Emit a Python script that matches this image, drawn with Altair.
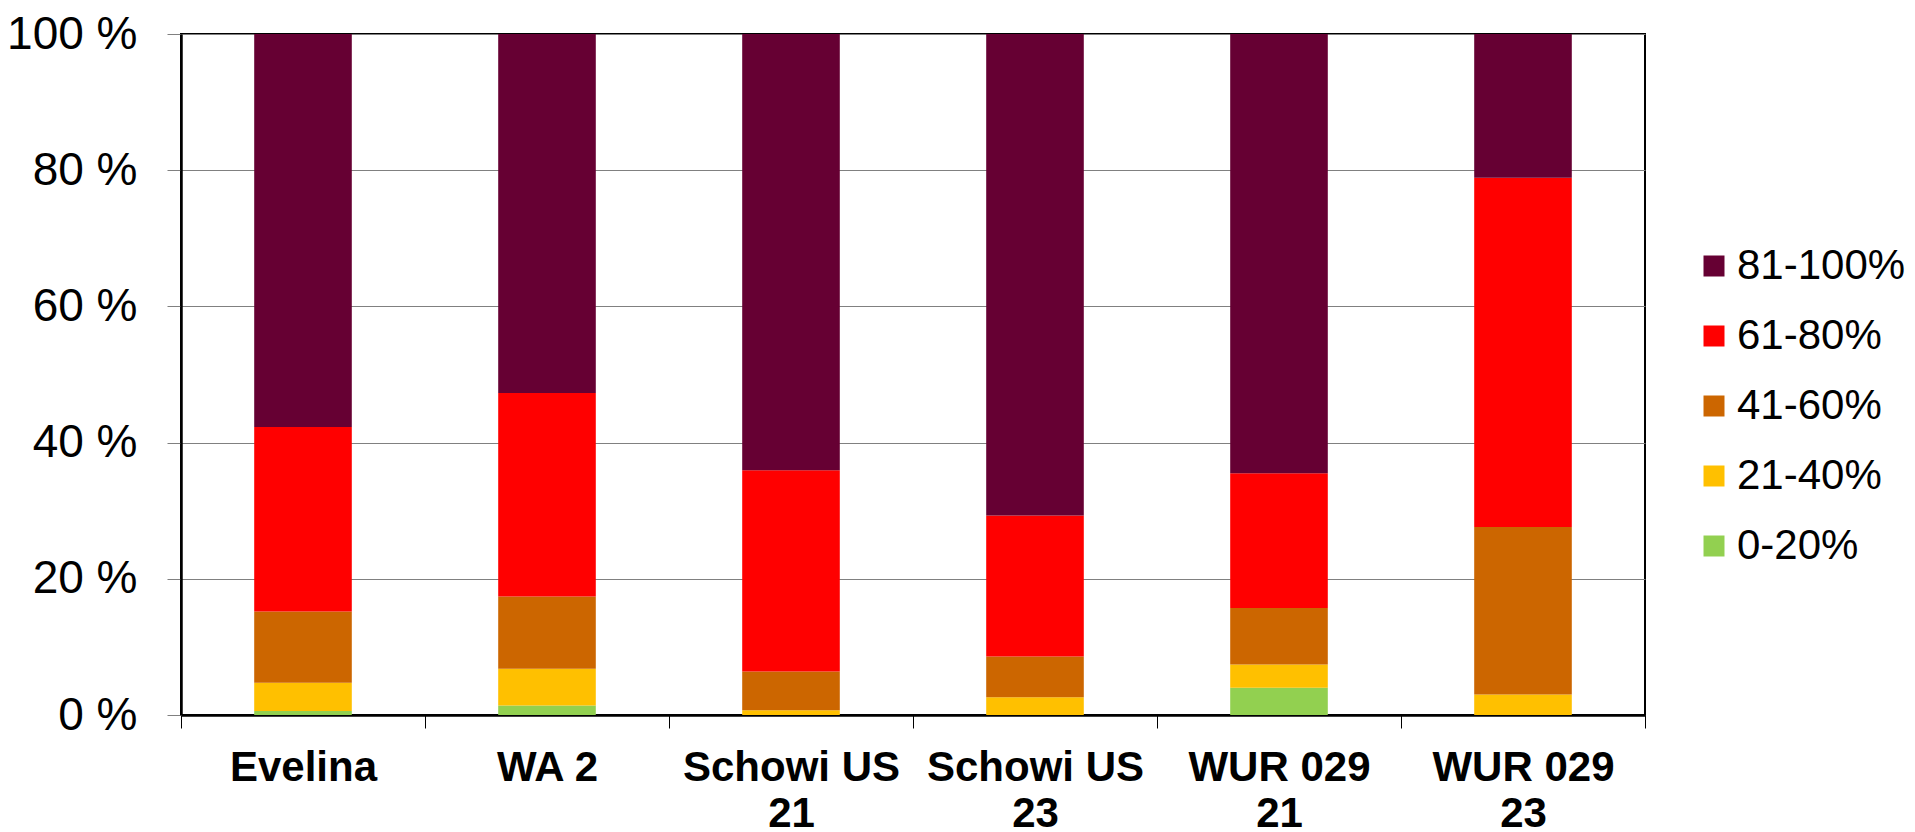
import altair as alt
import pandas as pd

categories = ["Evelina", "WA 2", "Schowi US\n21", "Schowi US\n23", "WUR 029\n21", "WUR 029\n23"]
classes = ["0-20%", "21-40%", "41-60%", "61-80%", "81-100%"]
class_colors = ["#92D050", "#FFC000", "#CC6600", "#FF0000", "#660033"]

share_0_20 = [0.6, 1.4, 0.0, 0.0, 4.0, 0.0]
share_21_40 = [4.15, 5.4, 0.7, 2.6, 3.4, 3.0]
share_41_60 = [10.45, 10.6, 5.7, 6.0, 8.3, 24.6]
share_61_80 = [27.1, 29.9, 29.55, 20.7, 19.8, 51.3]
share_81_100 = [57.7, 52.7, 64.05, 70.7, 64.5, 21.1]

series = [share_0_20, share_21_40, share_41_60, share_61_80, share_81_100]
y_ticks = [0, 20, 40, 60, 80, 100]

rows = []
for rank, (cls, vals) in enumerate(zip(classes, series)):
    for cat, v in zip(categories, vals):
        rows.append({"variety": cat, "klasse": cls, "share": v, "rank": rank})
df = pd.DataFrame(rows)

legend_order = classes[::-1]
legend_colors = class_colors[::-1]

FONT = "Liberation Sans"

chart = alt.Chart(df).mark_bar(width=alt.RelativeBandSize(0.4)).encode(
    x=alt.X(
        "variety:N",
        sort=categories,
        scale=alt.Scale(paddingInner=0, paddingOuter=0),
        axis=alt.Axis(
            title=None,
            labelAngle=0,
            labelFont=FONT,
            labelFontSize=42,
            labelFontWeight="bold",
            labelColor="black",
            labelLineHeight=46,
            labelLimit=0,
            labelOverlap=False,
            labelExpr="split(datum.label, '\\n')",
            labelPadding=19,
            tickBand="extent",
            tickSize=13,
            tickColor="black",
            tickWidth=1,
            domainColor="black",
            domainWidth=2.5,
            grid=False,
        ),
    ),
    y=alt.Y(
        "share:Q",
        stack="zero",
        scale=alt.Scale(domain=[0, 100], nice=False),
        axis=alt.Axis(
            title=None,
            values=y_ticks,
            labelExpr="datum.value + ' %'",
            labelFont=FONT,
            labelFontSize=46,
            labelColor="black",
            labelLimit=0,
            labelPadding=30,
            tickSize=14,
            tickColor="#808080",
            tickWidth=1,
            domainColor="black",
            domainWidth=2.5,
            grid=True,
            gridColor="#808080",
            gridWidth=1,
        ),
    ),
    color=alt.Color(
        "klasse:N",
        scale=alt.Scale(domain=legend_order, range=legend_colors),
        legend=alt.Legend(
            title=None,
            orient="none",
            legendX=1512,
            legendY=211,
            symbolType="square",
            symbolSize=441,
            symbolStrokeWidth=0,
            labelFont=FONT,
            labelFontSize=42,
            labelColor="black",
            labelLimit=0,
            labelOffset=2,
            rowPadding=28,
            padding=0,
        ),
    ),
    order=alt.Order("rank:Q", sort="ascending"),
).properties(
    width=1464,
    height=681,
    autosize=alt.AutoSizeParams(type="none"),
    padding={"left": 173, "top": 26, "right": 262, "bottom": 116},
).configure_view(
    stroke="black",
    strokeWidth=2,
)

chart.save("out.html", embed_options={"renderer": "svg", "actions": False})
